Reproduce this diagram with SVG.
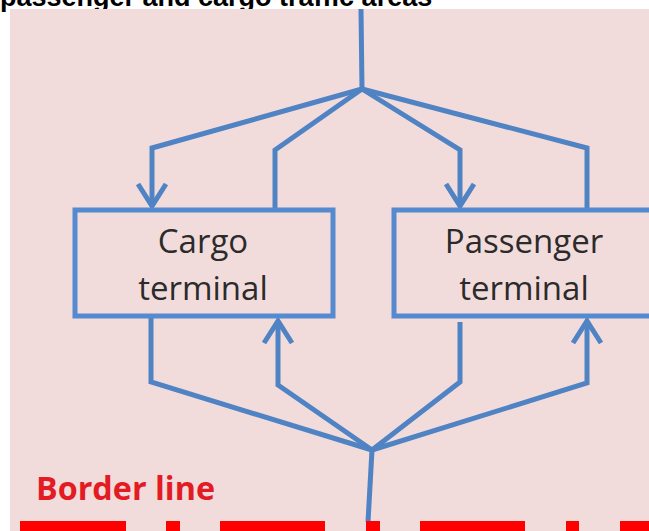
<svg xmlns="http://www.w3.org/2000/svg" width="649" height="531" viewBox="0 0 649 531">
  <style>
    .title { font-family: "Liberation Sans", Arial, sans-serif; font-weight: bold; font-size: 27px; fill: #000; }
    .box { fill: none; stroke: #558ad0; stroke-width: 5; }
    .lbl { font-family: "Open Sans", "Liberation Sans", sans-serif; font-size: 33px; fill: #2b2b2b; text-anchor: middle; }
    .conn { fill: none; stroke: #4f83c4; stroke-width: 5; stroke-linejoin: miter; }
    .border-txt { font-family: "Open Sans", "Liberation Sans", sans-serif; font-weight: bold; font-size: 33px; fill: #e31b23; }
    .dash { fill: #ff0000; }
  </style>
  <defs>
    <marker id="chev" markerUnits="userSpaceOnUse" viewBox="-28 -20 34 40" markerWidth="34" markerHeight="40" refX="0" refY="0" orient="auto">
      <path d="M-22,-14 L0,0 L-22,14" fill="none" stroke="#4f83c4" stroke-width="5"/>
    </marker>
  </defs>

  <rect x="0" y="0" width="649" height="531" fill="#ffffff"/>
  <text class="title" x="0" y="6">passenger and cargo traffic areas</text>
  <rect x="10" y="9" width="639" height="522" fill="#f2dcdb"/>

  <g id="connectors">
    <polyline class="conn" points="361,9 362,89"/>
    <polyline class="conn" points="362,89 152,148 152,206" marker-end="url(#chev)"/>
    <polyline class="conn" points="362,89 275,150 275,212"/>
    <polyline class="conn" points="362,89 460,150 460,206" marker-end="url(#chev)"/>
    <polyline class="conn" points="362,89 587,148 587,212"/>

    <polyline class="conn" points="151,316 151,382 372,450"/>
    <polyline class="conn" points="372,450 278,385 278,321" marker-end="url(#chev)"/>
    <polyline class="conn" points="460,322 460,382 372,450"/>
    <polyline class="conn" points="372,450 587,383 587,321" marker-end="url(#chev)"/>
    <polyline class="conn" points="372,450 368,522"/>
  </g>

  <g id="cargo-terminal">
    <rect class="box" x="75" y="210" width="258" height="106"/>
    <text class="lbl" x="203" y="253">Cargo</text>
    <text class="lbl" x="203" y="300">terminal</text>
  </g>

  <g id="passenger-terminal">
    <rect class="box" x="394" y="210" width="262" height="106"/>
    <text class="lbl" x="524" y="253">Passenger</text>
    <text class="lbl" x="524" y="300">terminal</text>
  </g>

  <g id="border-line">
    <text class="border-txt" x="36" y="500" textLength="179" lengthAdjust="spacingAndGlyphs">Border line</text>
    <rect class="dash" x="20" y="521" width="106" height="10"/>
    <rect class="dash" x="166" y="521" width="14" height="10"/>
    <rect class="dash" x="220" y="521" width="105" height="10"/>
    <rect class="dash" x="366" y="521" width="14" height="10"/>
    <rect class="dash" x="420" y="521" width="105" height="10"/>
    <rect class="dash" x="566" y="521" width="13" height="10"/>
    <rect class="dash" x="620" y="521" width="29" height="10"/>
  </g>
</svg>
